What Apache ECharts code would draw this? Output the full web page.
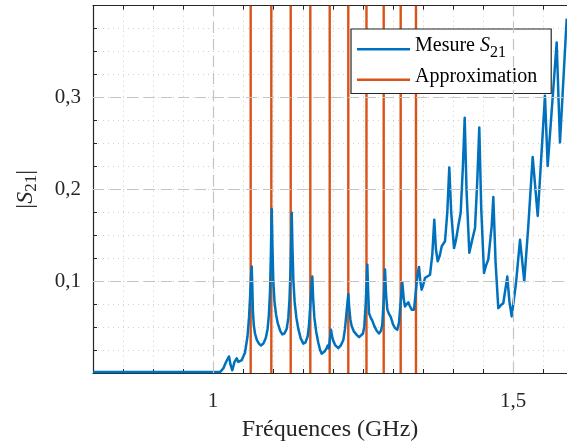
<!DOCTYPE html>
<html><head><meta charset="utf-8">
<script src="https://cdn.jsdelivr.net/npm/echarts@6/dist/echarts.min.js"></script>
<style>html,body{margin:0;padding:0;background:#fff}#c{width:567px;height:443px}</style>
</head><body><div id="c"></div><script>
// Measured |S21| (frequency in GHz)
const freqGHz = [0.80,0.85,0.90,0.95,1.00,1.0117,1.0172,1.0217,1.0267,1.0292,1.0322,1.0358,1.0395,1.0422,1.0478,1.0533,1.0575,1.060,1.062,1.0635,1.0645,1.0655,1.0665,1.068,1.070,1.073,1.0765,1.080,1.084,1.088,1.091,1.093,1.095,1.0965,1.0978,1.099,1.1005,1.1025,1.105,1.108,1.112,1.1155,1.119,1.1228,1.1255,1.1275,1.1295,1.1312,1.1325,1.134,1.136,1.139,1.1422,1.146,1.1505,1.154,1.1578,1.160,1.162,1.1645,1.1655,1.167,1.169,1.172,1.1755,1.1785,1.1812,1.184,1.1867,1.1895,1.1912,1.193,1.1945,1.1967,1.1985,1.2005,1.204,1.2088,1.213,1.2172,1.220,1.2228,1.2255,1.2272,1.229,1.2312,1.235,1.2395,1.2435,1.2467,1.250,1.2522,1.2545,1.2572,1.2588,1.260,1.263,1.2655,1.269,1.2728,1.2767,1.280,1.2822,1.2845,1.2867,1.2885,1.2905,1.2935,1.2962,1.300,1.3033,1.3072,1.310,1.3125,1.3155,1.318,1.320,1.3225,1.3255,1.328,1.3312,1.335,1.3375,1.3405,1.3433,1.3455,1.3478,1.350,1.3533,1.3617,1.3655,1.3688,1.3715,1.3745,1.378,1.3812,1.3867,1.3905,1.3938,1.397,1.4017,1.405,1.4088,1.4128,1.4165,1.4195,1.4225,1.4272,1.432,1.4367,1.4405,1.4438,1.447,1.4517,1.455,1.4588,1.4617,1.4645,1.4672,1.471,1.4755,1.480,1.4838,1.4905,1.494,1.4978,1.505,1.5117,1.5188,1.5255,1.5328,1.5412,1.5533,1.5578,1.5728,1.5783,1.5895];
const s21 = [0.001,0.001,0.0012,0.001,0.0012,0.001,0.005,0.012,0.018,0.009,0.003,0.012,0.016,0.012,0.014,0.022,0.040,0.060,0.085,0.108,0.116,0.095,0.068,0.052,0.043,0.036,0.032,0.030,0.032,0.038,0.048,0.062,0.088,0.130,0.179,0.140,0.100,0.078,0.064,0.054,0.046,0.042,0.043,0.048,0.060,0.080,0.120,0.1745,0.135,0.100,0.078,0.060,0.048,0.038,0.032,0.033,0.040,0.052,0.072,0.098,0.105,0.080,0.060,0.045,0.033,0.025,0.021,0.021,0.024,0.027,0.030,0.027,0.035,0.047,0.040,0.035,0.030,0.027,0.030,0.036,0.048,0.068,0.086,0.070,0.058,0.051,0.045,0.0415,0.039,0.039,0.043,0.051,0.075,0.118,0.085,0.065,0.060,0.057,0.051,0.046,0.043,0.046,0.053,0.080,0.1126,0.085,0.069,0.064,0.061,0.053,0.049,0.047,0.055,0.075,0.0987,0.080,0.0725,0.074,0.077,0.073,0.069,0.069,0.085,0.105,0.1155,0.100,0.0907,0.095,0.1035,0.107,0.129,0.167,0.135,0.1217,0.128,0.138,0.1435,0.175,0.2237,0.175,0.136,0.145,0.160,0.1745,0.225,0.278,0.200,0.131,0.145,0.158,0.210,0.2674,0.180,0.109,0.117,0.1235,0.125,0.160,0.1916,0.120,0.0707,0.074,0.076,0.105,0.078,0.0616,0.098,0.145,0.100,0.160,0.2353,0.171,0.302,0.2255,0.360,0.251,0.386];
// Approximated resonance frequencies (GHz)
const approxFreqs = [1.0628,1.0972,1.1295,1.1622,1.1945,1.2255,1.2558,1.2845,1.3128,1.3383];
// Axes
const xMajorTicks = [1, 1.5];
const xTickLabels = ['1', '1,5'];
const yMajorTicks = [0.1, 0.2, 0.3];
const yTickLabels = ['0,1', '0,2', '0,3'];
const seriesNames = ['Mesure S21', 'Approximation'];

const FONT = 'Liberation Serif';
const AX = '#262626';
function lookup(v, ticks, labels) {
  for (let i = 0; i < ticks.length; i++) if (Math.abs(v - ticks[i]) < 1e-6) return labels[i];
  return '';
}
const measured = freqGHz.map((f, i) => [f, s21[i]]);
const approx = [];
approxFreqs.forEach(f => { approx.push([f, 0]); approx.push([f, 0.4]); approx.push([f, '-']); });

// legend line icon: thin bar sitting in the lower part of the icon box
const LEG_ICON = 'path://M0,0L0.01,0L0,0.01Z M0,6.6L53,6.6L53,9L0,9Z';
const legendRich = {
  m: {fontFamily: FONT, fontSize: 20, color: '#000'},
  i: {fontFamily: FONT, fontSize: 20, color: '#000', fontStyle: 'italic'},
  s: {fontFamily: FONT, fontSize: 16, color: '#000', padding: [13, 0, 0, 0]},
  a: {fontFamily: FONT, fontSize: 20, color: '#000'}
};

const chart = echarts.init(document.getElementById('c'), null, {renderer: 'canvas'});
chart.setOption({
  animation: false,
  backgroundColor: '#fff',
  grid: {left: 93, top: 5.7, right: 0, bottom: 70, containLabel: false, outerBoundsMode: 'none'},
  xAxis: [{
    type: 'value', min: 0.8, max: 1.59, interval: 0.05, position: 'bottom',
    axisLine: {show: true, lineStyle: {color: AX, width: 1.2}},
    axisTick: {show: true, inside: true, length: 4, lineStyle: {color: AX}},
    axisLabel: {margin: 18, fontFamily: FONT, fontSize: 21, color: AX,
      formatter: v => lookup(v, xMajorTicks, xTickLabels)},
    splitLine: {show: true, lineStyle: {color: '#cfcfcf', type: [1, 4], width: 1}},
    name: 'Fréquences (GHz)', nameLocation: 'middle', nameGap: 44.5,
    nameTextStyle: {fontFamily: FONT, fontSize: 24, color: AX}
  }, {
    type: 'value', min: 0.8, max: 1.59, interval: 0.05, position: 'top',
    axisLine: {show: true, onZero: false, lineStyle: {color: AX, width: 1.2}},
    axisTick: {show: true, inside: true, length: 4, lineStyle: {color: AX}},
    axisLabel: {show: false}, splitLine: {show: false}
  }],
  yAxis: [{
    type: 'value', min: 0, max: 0.4, interval: 0.025,
    axisLine: {show: true, lineStyle: {color: AX, width: 1.2}},
    axisTick: {show: true, inside: true, length: 4, lineStyle: {color: AX}},
    axisLabel: {margin: 12, fontFamily: FONT, fontSize: 21, color: AX,
      formatter: v => lookup(v, yMajorTicks, yTickLabels)},
    splitLine: {show: true, lineStyle: {color: '#cfcfcf', type: [1, 4], width: 1}},
    name: '|{i|S}{s|21}|', nameLocation: 'middle', nameGap: 53,
    nameTextStyle: {fontFamily: FONT, fontSize: 24, color: AX,
      rich: {i: {fontFamily: FONT, fontSize: 24, fontStyle: 'italic', color: AX},
             s: {fontFamily: FONT, fontSize: 17, color: AX, padding: [12, 0, 0, 0]}}}
  }],
  legend: {
    data: seriesNames.map(n => ({name: n, icon: LEG_ICON})), orient: 'vertical', left: 351, top: 29,
    padding: [7, 14, 7, 6], itemGap: 6, itemWidth: 53, itemHeight: 9,
    backgroundColor: '#fff', borderColor: AX, borderWidth: 1.2, borderRadius: 0,
    formatter: n => n === 'Mesure S21' ? '{m|Mesure }{i|S}{s|21}' : '{a|' + n + '}',
    textStyle: {fontFamily: FONT, fontSize: 20, color: '#000', rich: legendRich}
  },
  series: [{
    name: 'grid', type: 'line', data: [], z: 1, silent: true,
    markLine: {silent: true, symbol: ['none', 'none'], label: {show: false},
      lineStyle: {color: '#c4c4c4', type: [11, 6], width: 1.2},
      data: xMajorTicks.map(v => ({xAxis: v})).concat(yMajorTicks.map(v => ({yAxis: v})))}
  }, {
    name: 'Approximation', type: 'line', data: approx, showSymbol: false, symbol: 'none',
    connectNulls: false, z: 3,
    lineStyle: {color: '#D95319', width: 2.4}, itemStyle: {color: '#D95319'}
  }, {
    name: 'Mesure S21', type: 'line', data: measured, showSymbol: false, symbol: 'none', z: 4,
    lineStyle: {color: '#0072BD', width: 2.5, join: 'round'}, itemStyle: {color: '#0072BD'}
  }]
});
</script></body></html>
